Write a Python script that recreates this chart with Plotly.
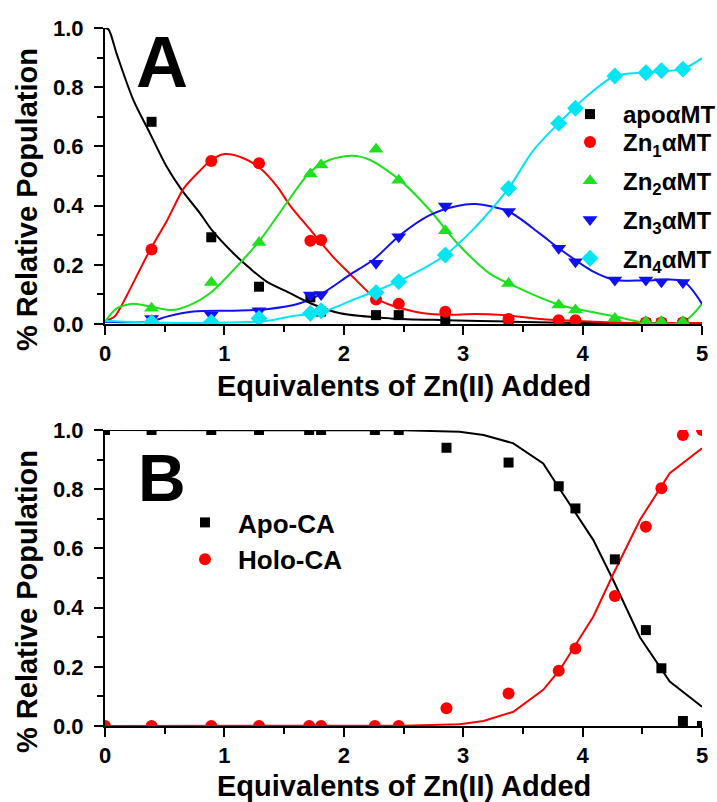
import plotly.graph_objects as go

# ---------------- Panel A data ----------------
xa_data = [0.39, 0.89, 1.29, 1.72, 1.81, 2.27, 2.46, 2.85, 3.38, 3.80, 3.94, 4.27, 4.53, 4.66, 4.84]
apo_a = [0.683, 0.293, 0.126, 0.09, 0.042, 0.03, 0.03, 0.011, 0.013, 0.004, 0.004, 0.002, 0.002, 0.002, 0.002]
zn1_a = [0.252, 0.551, 0.543, 0.281, 0.284, 0.083, 0.068, 0.041, 0.017, 0.013, 0.013, 0.005, 0.005, 0.005, 0.005]
zn2_a = [0.053, 0.14, 0.275, 0.507, 0.537, 0.59, 0.486, 0.315, 0.137, 0.064, 0.047, 0.019, 0.008, 0.008, 0.008]
zn3_a = [0.019, 0.03, 0.045, 0.098, 0.10, 0.205, 0.295, 0.399, 0.38, 0.256, 0.21, 0.149, 0.149, 0.143, 0.14]
zn4_a = [0.005, 0.006, 0.019, 0.036, 0.045, 0.106, 0.143, 0.233, 0.458, 0.678, 0.729, 0.838, 0.849, 0.856, 0.861]

# fit curves
apo_fit_x = [0, 0.03, 0.1, 0.237, 0.377, 0.517, 0.642, 0.796, 0.894, 1.075, 1.214, 1.354, 1.55, 1.72, 1.97, 2.39, 2.86, 3.4, 4.0, 5.0]
apo_fit_y = [1.0, 0.995, 0.91, 0.757, 0.644, 0.531, 0.453, 0.374, 0.318, 0.239, 0.188, 0.143, 0.104, 0.07, 0.036, 0.019, 0.013, 0.008, 0.003, 0.002]
zn1_fit_x = [0, 0.08, 0.126, 0.377, 0.52, 0.66, 0.80, 0.89, 1.005, 1.16, 1.30, 1.45, 1.55, 1.72, 1.91, 2.05, 2.25, 2.39, 2.67, 2.86, 3.1, 3.33, 3.67, 4.09, 4.5, 5.0]
zn1_fit_y = [0.008, 0.025, 0.053, 0.25, 0.35, 0.458, 0.52, 0.554, 0.574, 0.56, 0.526, 0.46, 0.40, 0.318, 0.227, 0.17, 0.092, 0.064, 0.036, 0.031, 0.034, 0.03, 0.016, 0.008, 0.003, 0.003]
zn2_fit_x = [0, 0.098, 0.237, 0.377, 0.558, 0.71, 0.88, 1.075, 1.30, 1.52, 1.72, 1.88, 2.07, 2.22, 2.47, 2.72, 2.95, 3.22, 3.38, 3.81, 4.28, 4.51, 4.84, 5.0]
zn2_fit_y = [0.008, 0.053, 0.068, 0.059, 0.047, 0.064, 0.104, 0.182, 0.284, 0.408, 0.514, 0.554, 0.568, 0.554, 0.486, 0.385, 0.273, 0.171, 0.137, 0.064, 0.025, 0.005, 0.006, 0.068]
zn3_fit_x = [0, 0.377, 0.517, 0.74, 1.075, 1.354, 1.633, 1.83, 2.05, 2.25, 2.47, 2.72, 2.95, 3.1, 3.38, 3.64, 3.80, 4.09, 4.27, 4.53, 4.84, 5.0]
zn3_fit_y = [0.008, 0.008, 0.025, 0.042, 0.045, 0.05, 0.07, 0.106, 0.166, 0.218, 0.30, 0.368, 0.399, 0.405, 0.38, 0.306, 0.256, 0.177, 0.149, 0.147, 0.145, 0.068]
zn4_fit_x = [0, 0.5, 0.9, 1.354, 1.55, 1.83, 2.11, 2.39, 2.67, 2.85, 3.08, 3.22, 3.38, 3.59, 3.80, 4.03, 4.27, 4.53, 4.84, 5.0]
zn4_fit_y = [0.01, 0.004, 0.004, 0.01, 0.025, 0.042, 0.087, 0.132, 0.188, 0.233, 0.318, 0.38, 0.458, 0.588, 0.678, 0.768, 0.838, 0.85, 0.862, 0.898]

# ---------------- Panel B data ----------------
xb_data = [0, 0.39, 0.89, 1.29, 1.71, 1.81, 2.26, 2.46, 2.86, 3.38, 3.80, 3.94, 4.27, 4.53, 4.66, 4.84, 5.0]
apo_ca = [1, 1, 1, 1, 1, 1, 1, 1, 0.94, 0.89, 0.81, 0.735, 0.563, 0.324, 0.195, 0.017, 0.0]
holo_ca = [0, 0, 0, 0, 0, 0, 0, 0, 0.06, 0.11, 0.187, 0.262, 0.439, 0.673, 0.803, 0.983, 1.0]
xb_fit = [0, 1, 2, 2.5, 2.97, 3.17, 3.42, 3.67, 3.81, 4.09, 4.26, 4.48, 4.73, 5.0]
apo_ca_fit = [1, 1, 1, 0.999, 0.994, 0.983, 0.955, 0.887, 0.80, 0.628, 0.49, 0.30, 0.15, 0.065]
holo_ca_fit = [0, 0, 0, 0.001, 0.006, 0.017, 0.048, 0.122, 0.19, 0.37, 0.516, 0.696, 0.854, 0.938]

x_ticks = [0, 1, 2, 3, 4, 5]
y_ticks = [0.0, 0.2, 0.4, 0.6, 0.8, 1.0]

labels_a = ["apo\u03b1MT", "Zn<sub>1</sub>\u03b1MT", "Zn<sub>2</sub>\u03b1MT", "Zn<sub>3</sub>\u03b1MT", "Zn<sub>4</sub>\u03b1MT"]
legends_a = ["legend3", "legend", "legend", "legend", "legend"]
labels_b = ["Apo-CA", "Holo-CA"]

BLACK = "#000000"
RED = "#ff0000"
GREEN = "#1ee01e"
BLUE = "#1010f0"
CYAN = "#00e6f2"
FONT = "Liberation Sans, Arial, sans-serif"

fig = go.Figure()

series_a = [
    (apo_a, apo_fit_x, apo_fit_y, BLACK, "square", 10),
    (zn1_a, zn1_fit_x, zn1_fit_y, RED, "circle", 12),
    (zn2_a, zn2_fit_x, zn2_fit_y, GREEN, "triangle-up", 13),
    (zn3_a, zn3_fit_x, zn3_fit_y, BLUE, "triangle-down", 13),
    (zn4_a, zn4_fit_x, zn4_fit_y, CYAN, "diamond", 13),
]
for i, (yd, fx, fy, col, sym, sz) in enumerate(series_a):
    fig.add_trace(go.Scatter(x=fx, y=fy, mode="lines", line=dict(color=col, width=2, shape="spline", smoothing=0.8),
                             showlegend=False, xaxis="x", yaxis="y", hoverinfo="skip"))
for i, (yd, fx, fy, col, sym, sz) in enumerate(series_a):
    fig.add_trace(go.Scatter(x=xa_data, y=yd, mode="markers", name=labels_a[i],
                             marker=dict(color=col, symbol=sym, size=sz, line=dict(width=0)),
                             legendgroup="a%d" % i, legend=legends_a[i], xaxis="x", yaxis="y"))

fig.add_trace(go.Scatter(x=xb_fit, y=apo_ca_fit, mode="lines", line=dict(color=BLACK, width=2),
                         showlegend=False, xaxis="x2", yaxis="y2"))
fig.add_trace(go.Scatter(x=xb_fit, y=holo_ca_fit, mode="lines", line=dict(color=RED, width=2),
                         showlegend=False, xaxis="x2", yaxis="y2"))
fig.add_trace(go.Scatter(x=xb_data, y=apo_ca, mode="markers", name=labels_b[0],
                         marker=dict(color=BLACK, symbol="square", size=10), legend="legend2",
                         legendgroup="b0", xaxis="x2", yaxis="y2"))
fig.add_trace(go.Scatter(x=xb_data, y=holo_ca, mode="markers", name=labels_b[1],
                         marker=dict(color=RED, symbol="circle", size=12), legend="legend2",
                         legendgroup="b0", xaxis="x2", yaxis="y2"))

H = 698.0
def py(p):
    return (726 - p) / H
def px(p):
    return (p - 105) / 597.0

axis_common = dict(showline=True, linewidth=2, linecolor="black", ticks="outside", ticklen=9, tickwidth=2,
                   tickcolor="black", showgrid=False, zeroline=False, mirror=False, automargin=False,
                   tickfont=dict(family=FONT, size=22, color="black", weight="bold"))

xa = dict(axis_common, range=[0, 5], tickvals=x_ticks, ticktext=[str(v) for v in x_ticks],
          minor=dict(tickvals=[0.5, 1.5, 2.5, 3.5, 4.5], ticklen=6, tickwidth=2, tickcolor="black", ticks="outside"))
ya = dict(axis_common, range=[0, 1], tickvals=y_ticks, ticktext=["%.1f" % v for v in y_ticks], ticklabelstandoff=6,
          minor=dict(tickvals=[0.1, 0.3, 0.5, 0.7, 0.9], ticklen=6, tickwidth=2, tickcolor="black", ticks="outside"))

legend_font_a = dict(family=FONT, size=24, color="black", weight="bold")
fig.update_layout(
    width=717, height=802,
    margin=dict(l=105, r=15, t=28, b=76, autoexpand=False),
    paper_bgcolor="white", plot_bgcolor="white",
    xaxis=dict(xa, domain=[0, 1], anchor="y"),
    yaxis=dict(ya, domain=[py(324), 1.0], anchor="x"),
    xaxis2=dict(xa, domain=[0, 1], anchor="y2"),
    yaxis2=dict(ya, domain=[0, py(430)], anchor="x2"),
    legend3=dict(x=px(557), y=py(92), xanchor="left", yanchor="top", itemwidth=56,
                 bgcolor="rgba(0,0,0,0)", font=legend_font_a),
    legend=dict(x=px(557), y=py(120), xanchor="left", yanchor="top", itemwidth=56, tracegroupgap=4.5,
                bgcolor="rgba(0,0,0,0)", font=legend_font_a),
    legend2=dict(x=px(172), y=py(499), xanchor="left", yanchor="top", itemwidth=56, tracegroupgap=0,
                 bgcolor="rgba(0,0,0,0)", font=dict(family=FONT, size=26, color="black", weight="bold")),
    showlegend=True,
)

title_font = dict(family=FONT, size=29, color="black", weight="bold")
ann = [
    dict(text="A", x=px(162), y=py(62), font=dict(family=FONT, size=72, color="black", weight="bold")),
    dict(text="B", x=px(162), y=py(478), font=dict(family=FONT, size=66, color="black", weight="bold")),
    dict(text="Equivalents of Zn(II) Added", x=px(404), y=py(386), font=title_font),
    dict(text="Equivalents of Zn(II) Added", x=px(404), y=py(786), font=title_font),
    dict(text="% Relative Population", x=px(27), y=py(200), textangle=-90, font=title_font),
    dict(text="% Relative Population", x=px(27), y=py(602), textangle=-90, font=title_font),
]
for a in ann:
    a.update(xref="paper", yref="paper", showarrow=False, xanchor="center", yanchor="middle")
fig.update_layout(annotations=ann)

fig.write_html("out.html", config={"displayModeBar": False},
               post_script="document.body.style.margin='0';document.body.style.overflow='hidden';")
